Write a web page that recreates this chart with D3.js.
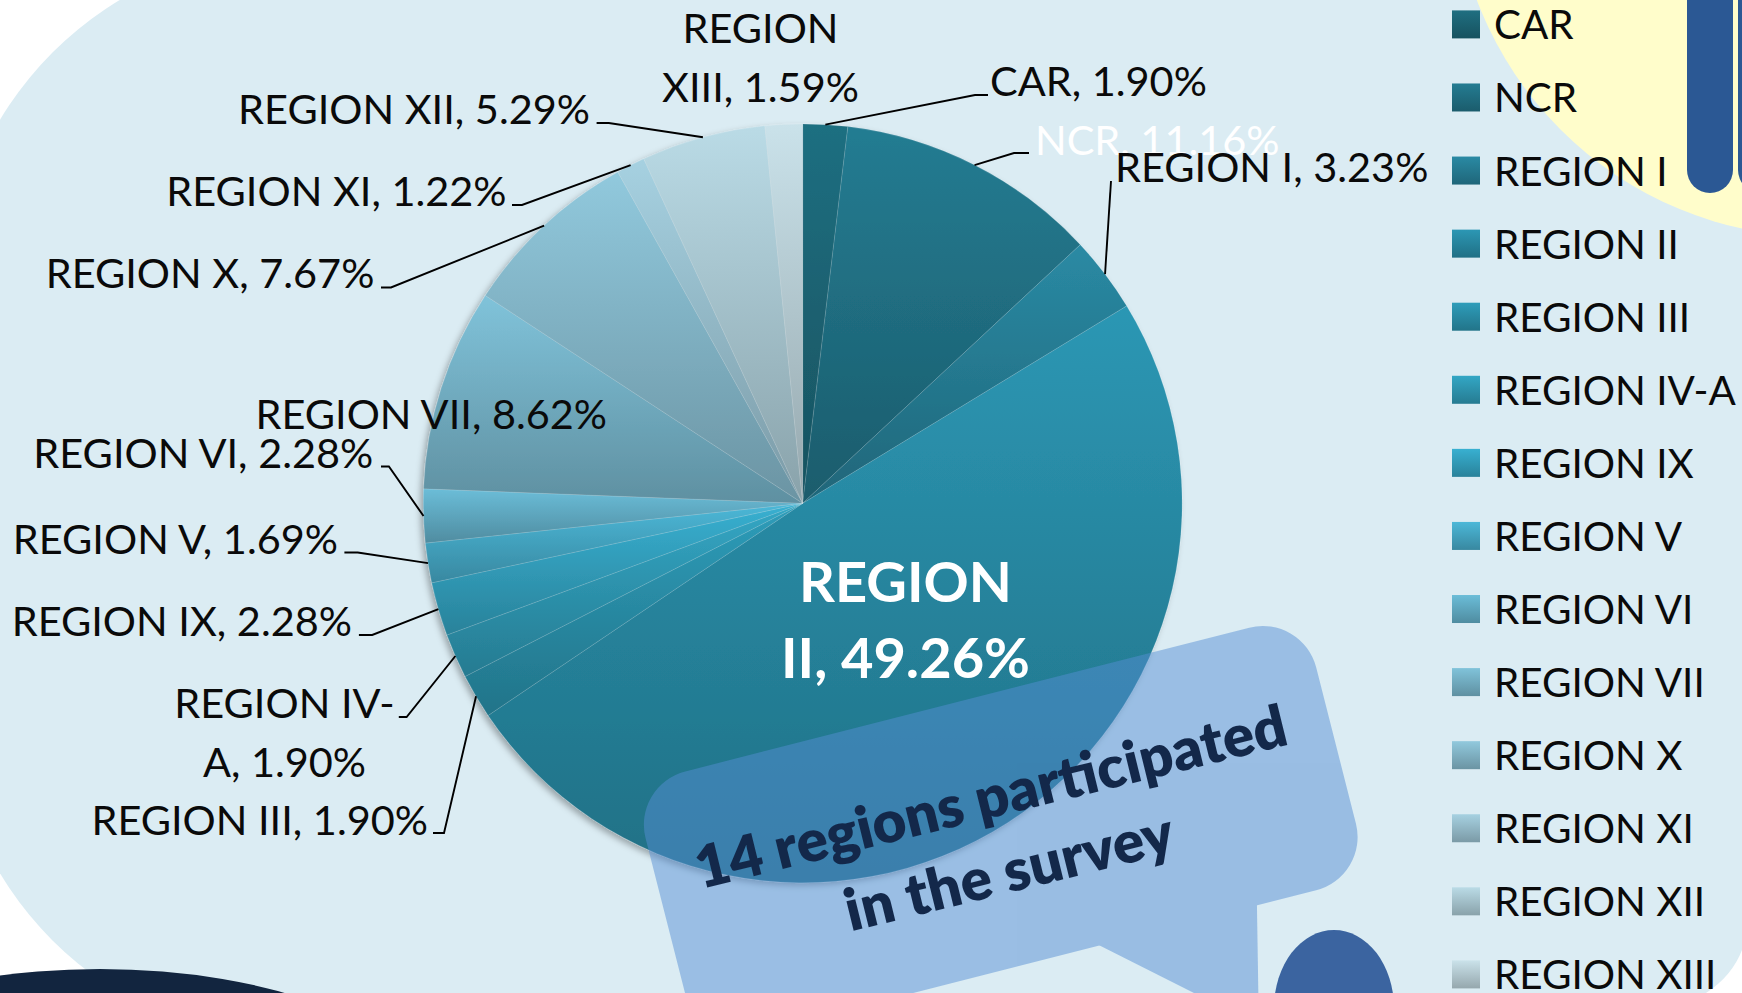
<!DOCTYPE html>
<html><head><meta charset="utf-8">
<script src="https://cdn.jsdelivr.net/npm/d3@7"></script>
<style>html,body{margin:0;padding:0;background:#fff;overflow:hidden}</style>
</head><body><svg id="c" width="1742" height="993"></svg>
<script>
// ---------- DATA ----------
const categories = ["CAR","NCR","REGION I","REGION II","REGION III","REGION IV-A","REGION IX","REGION V","REGION VI","REGION VII","REGION X","REGION XI","REGION XII","REGION XIII"];
const percentages = [1.90,11.16,3.23,49.26,1.90,1.90,2.28,1.69,2.28,8.62,7.67,1.22,5.29,1.59];
const sliceColors = ["#1f6f81","#247c92","#2a8aa4","#2c97b4","#2e9dba","#33a7c5","#38b0d1","#4cb8d8","#6bbdd8","#80c3da","#91c9dd","#a6d1e1","#badbe6","#cae2ea"];
const calloutLines = ["14 regions participated","in the survey"];

// ---------- LAYOUT ----------
const W = 1742, H = 993;
const cx = 802.7, cy = 503.3, R = 379.4;
const FAMILY = "Lato, 'Open Sans', sans-serif";
const labelLayout = {
  "CAR":        {x: 990,  y: 96,    anchor: "start",  leader: [[975,95],[988,95]]},
  "NCR":        {x: 1035, y: 155,   anchor: "start",  leader: [[1014,153],[1029,153]], fill: "#ffffff"},
  "REGION I":   {x: 1115, y: 182,   anchor: "start",  leader: [[1111,181]]},
  "REGION II":  {x: 905.5,y: 602,   anchor: "middle", split: "REGION", bold: true, fill: "#ffffff", lh: 76},
  "REGION III": {x: 428,  y: 835,   anchor: "end",    leader: [[444,833],[433,833]]},
  "REGION IV-A":{x: 284.5,y: 718,   anchor: "middle", split: "REGION IV-", lh: 59, leader: [[406.6,717],[398.8,717]]},
  "REGION IX":  {x: 352,  y: 636,   anchor: "end",    leader: [[372.2,635],[358.9,635]]},
  "REGION V":   {x: 338,  y: 554,   anchor: "end",    leader: [[357.7,552.5],[344.4,552.5]]},
  "REGION VI":  {x: 373.3,y: 468,   anchor: "end",    leader: [[388.9,466.5],[381,466.5]]},
  "REGION VII": {x: 255.5,y: 429,   anchor: "start"},
  "REGION X":   {x: 374.4,y: 288,   anchor: "end",    leader: [[391,287.5],[381,287.5]]},
  "REGION XI":  {x: 506.6,y: 206,   anchor: "end",    leader: [[522,205],[512,205]]},
  "REGION XII": {x: 590,  y: 124,   anchor: "end",    leader: [[608.8,123],[596.6,123]]},
  "REGION XIII":{x: 760.5,y: 43,    anchor: "middle", split: "REGION", lh: 59}
};

const svg = d3.select("#c");
const defs = svg.append("defs");

function measure(text, weight){
  const t = svg.append("text").attr("font-family", FAMILY).attr("font-weight", weight)
    .attr("font-size", 100).text(text);
  const w = t.node().getComputedTextLength(); t.remove(); return w;
}
const labelSize  = 352   / measure("REGION XII, 5.29%", 400) * 100;
const legendSize = 242   / measure("REGION IV-A", 400) * 100;
const boldSize   = 213   / measure("REGION", 700) * 100;
const bubbleSize = 598.6 / measure(calloutLines[0], 700) * 100;

// gradients
sliceColors.forEach((c, i) => {
  const g = defs.append("linearGradient").attr("id", "g" + i)
    .attr("x1", 0).attr("y1", 0).attr("x2", 0).attr("y2", 1);
  g.append("stop").attr("offset", 0).attr("stop-color", c);
  g.append("stop").attr("offset", 1).attr("stop-color", d3.color(c).darker(0.85).formatHex());
});
const sh = defs.append("filter").attr("id", "shadow").attr("x", "-10%").attr("y", "-10%").attr("width", "120%").attr("height", "120%");
sh.append("feDropShadow").attr("dx", -3).attr("dy", 3).attr("stdDeviation", 3)
  .attr("flood-color", "#000").attr("flood-opacity", 0.3);

// ---------- BACKGROUND ----------
svg.append("rect").attr("width", W).attr("height", H).attr("fill", "#ffffff");
svg.append("rect").attr("x", -50).attr("y", -50).attr("width", 2400).attr("height", 1093)
  .attr("rx", 350).attr("ry", 350).attr("fill", "#dbecf3");
svg.append("path").attr("d", "M1742,950 Q1732,976 1706,993 L1742,993 Z").attr("fill", "#ffffff");
svg.append("circle").attr("cx", 1820).attr("cy", -130).attr("r", 367).attr("fill", "#fffdcb");
svg.append("rect").attr("x", 1687).attr("y", -40).attr("width", 46).attr("height", 233)
  .attr("rx", 23).attr("fill", "#2b5894");
svg.append("rect").attr("x", 1738).attr("y", -40).attr("width", 46).attr("height", 233)
  .attr("rx", 23).attr("fill", "#2b5894");
svg.append("ellipse").attr("cx", 100).attr("cy", 1100).attr("rx", 320).attr("ry", 131).attr("fill", "#12253f");

// ---------- PIE ----------
const data = categories.map((c, i) => ({cat: c, val: percentages[i], idx: i}));
const pie = d3.pie().value(d => d.val).sort(null);
const arcs = pie(data);
const arc = d3.arc().innerRadius(0).outerRadius(R);
const edge = d3.arc().innerRadius(R).outerRadius(R);

const gPie = svg.append("g").attr("transform", `translate(${cx},${cy})`).attr("filter", "url(#shadow)");
gPie.selectAll("path").data(arcs).join("path")
  .attr("d", arc)
  .attr("fill", d => `url(#g${d.data.idx})`)
  .attr("stroke", "#ffffff").attr("stroke-opacity", 0.15).attr("stroke-width", 0.8);

// leader lines
const gLines = svg.append("g");
arcs.forEach(d => {
  const L = labelLayout[d.data.cat];
  if (!L || !L.leader) return;
  const p = edge.centroid(d);
  const pts = [[cx + p[0], cy + p[1]], ...L.leader];
  gLines.append("path").attr("d", d3.line()(pts)).attr("fill", "none")
    .attr("stroke", "#000").attr("stroke-width", 1.9);
});

// labels
const gLab = svg.append("g").attr("font-family", FAMILY);
const order = arcs.slice().sort((a, b) => (a.data.cat === "NCR" ? -1 : 0) - (b.data.cat === "NCR" ? -1 : 0));
order.forEach(d => {
  const L = labelLayout[d.data.cat];
  const full = `${d.data.cat}, ${d.data.val.toFixed(2)}%`;
  const lines = L.split ? [L.split, full.slice(L.split.length).trim()] : [full];
  const t = gLab.append("text")
    .attr("x", L.x).attr("y", L.y)
    .attr("text-anchor", L.anchor)
    .attr("font-size", L.bold ? boldSize : labelSize)
    .attr("font-weight", L.bold ? 700 : 400)
    .attr("fill", L.fill || "#0a0a0a");
  lines.forEach((ln, k) => {
    t.append("tspan").attr("x", L.x).attr("dy", k === 0 ? 0 : (L.lh || 59)).text(ln);
  });
});

// ---------- LEGEND ----------
const legendY = d3.scalePoint().domain(categories).range([24.4, 974.4]);
const gLeg = svg.append("g").attr("font-family", FAMILY);
categories.forEach((c, i) => {
  const y = legendY(c);
  gLeg.append("rect").attr("x", 1452).attr("y", y - 14).attr("width", 28).attr("height", 28)
    .attr("fill", `url(#g${i})`);
  gLeg.append("text").attr("x", 1494).attr("y", y + 15).attr("font-size", legendSize)
    .attr("fill", "#0a0a0a").text(c);
});

// ---------- CALLOUT BUBBLE ----------
const gB = svg.append("g").attr("opacity", 0.49)
  .attr("transform", "translate(632,785) rotate(-14.3)");
gB.append("rect").attr("x", 0).attr("y", 0).attr("width", 692).attr("height", 271)
  .attr("rx", 55).attr("fill", "#568ed4");
gB.append("path").attr("d", d3.line()([[403,262],[578,262],[548,388]]) + "Z").attr("fill", "#568ed4");

const bt = svg.append("text")
  .attr("transform", "translate(995.6,816.7) rotate(-13.8)")
  .attr("text-anchor", "middle").attr("font-family", FAMILY).attr("font-weight", 800)
  .attr("font-size", bubbleSize).attr("fill", "#13284a");
calloutLines.forEach((ln, k) => bt.append("tspan").attr("x", 0).attr("dy", k === 0 ? 0 : 77).text(ln));

// head shape
svg.append("ellipse").attr("cx", 1334).attr("cy", 1008).attr("rx", 60).attr("ry", 78).attr("fill", "#3b64a0");
</script>
</body></html>
